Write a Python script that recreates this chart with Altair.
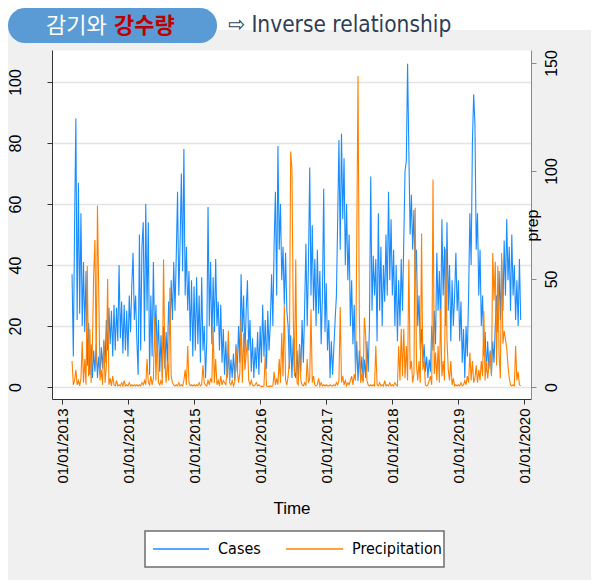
import altair as alt
import pandas as pd

# ---- data (weekly samples) ----
cases_2013 = [37,10,53,88,22, 67,24,57,20,41, 18,38,7,21,4, 14,3,12,5,14, 3,10,4,13,6, 15,8,22,12,26,
              14,25,10,27,12, 26,15,40,16,28, 11,27,12,25,10]
cases_2014 = [30,18,33,44,22, 30,15,4,50,12, 46,54,15,60,25, 54,4,30,10,41, 14,27,10,22,5, 17,3,20,6,18,
              8,28,17,35,22, 41,25,43,64,30, 47,70,38,78,30, 46,25,38,15,35, 10,33]
cases_2015 = [12,36,14,30,8, 36,12,20,3,15, 59,20,41,14,36, 18,42,20,28,12, 27,8,19,4,15, 3,12,2,9,3,
              11,2,14,5,20, 8,37,18,30,10, 25,35,12,22,5, 16,3,13,6,18, 4,20]
cases_2016 = [8,27,10,22,6, 25,12,21,37,20, 47,64,30,79,45, 60,35,46,27,44, 25,20,6,17,3, 16,5,3,12,2,
              14,5,22,8,26, 47,20,40,72,30, 53,25,42,20,45, 24,38,14,30,65, 18,34]
cases_2017 = [12,22,3,15,4, 13,22,30,55,81, 45,83,55,75,40, 60,35,50,20,35, 14,27,5,15,2, 12,3,10,2,9,
              3,15,5,20,69, 25,43,30,42,15, 57,25,46,20,40, 28,50,30,64,35, 55,30]
cases_2018 = [45,20,40,15,35, 20,42,25,48,71, 74,106,77,50,63, 45,58,35,45,20, 30,12,19,8,14, 5,10,3,9,5,
              20,12,25,14,44, 25,38,18,55,30, 46,20,54,25,40, 15,35,20,30,44, 25,35]
cases_2019 = [15,28,8,19,3, 20,10,30,57,40, 80,96,86,45,57, 30,45,20,30,10, 18,5,15,6,12, 4,15,8,20,30,
              18,38,22,42,25, 48,30,55,35,46, 25,50,30,40,22, 35,20,42,22]

prep_2013 = [12,1,3,8,1, 3,0.5,4,21,2, 13,1,56,5,27, 2,18,52,68,10, 84,44,3,8,1, 22,2,10,50,1,
             4,0.5,5,1,0.5, 3,0.5,1,0.5,2, 0.5,3,0.5,1,0.5]
prep_2014 = [2,0.5,1,0.5,1, 0.5,1,0.5,1,0.5, 2,1,3,1,13, 2,1,5,1,4, 32,3,24,2,1, 3,1,59,12,2,
             12,3,46,5,2, 1,0.5,1,0.5,2, 0.5,1,0.5,3,8, 1,19,2,0.5,1, 0.5,1]
prep_2015 = [0.5,1,0.5,2,0.5, 1,10,2,1,0.5, 3,1,4,2,28, 2,13,1,3,0.5, 5,1,3,2,1, 8,26,2,1,3,
             0.5,2,18,8,2, 6,32,2,25,8, 15,22,3,1,3, 1,0.5,1,2,0.5, 1,0.5]
prep_2016 = [0.3,0.3,0.5,15,0.5, 0.3,0.3,0.5,0.3,0.5, 7,1,4,1,13, 2,25,5,38,3, 1,5,12,109,101, 35,5,59,2,1,
             19,3,1,0.5,2, 0.5,13,2,4,36, 2,5,1,0.5,1, 4,0.5,2,0.5,1, 0.5,1]
prep_2017 = [0.5,0.5,1,0.5,0.5, 1,0.5,2,1,3, 37,2,5,1,3, 0.5,2,1,3,5, 1,6,3,67,144, 35,2,6,2,32,
             24,3,1,0.5,1, 0.5,1,0.5,19,1, 0.5,2,0.5,1,0.5, 3,0.5,1,0.5,2, 0.5,1]
prep_2018 = [0.5,2,1,0.5,19, 3,27,5,27,4, 19,3,59,8,12, 2,6,83,10,3, 12,2,71,8,12, 1,0.5,1,3,5,
             1,96,6,16,3, 19,2,36,5,12, 3,64,22,8,3, 12,1,4,0.5,1, 0.5,1]
prep_2019 = [0.5,2,0.5,1,3, 1,5,2,16,3, 12,2,4,10,2, 8,3,12,5,35, 3,12,4,10,16, 5,62,40,58,10,
             56,15,4,62,20, 26,22,18,10,4, 1,0.5,1,0.5,19, 3,7,1,0.5]

left_ticks = [0, 20, 40, 60, 80, 100]
right_ticks = [0, 50, 100, 150]
tick_dates = ["2013-01-01", "2014-01-01", "2015-01-01", "2016-01-01",
              "2017-01-01", "2018-01-01", "2019-01-01", "2020-01-01"]

cases = cases_2013 + cases_2014 + cases_2015 + cases_2016 + cases_2017 + cases_2018 + cases_2019
prep = prep_2013 + prep_2014 + prep_2015 + prep_2016 + prep_2017 + prep_2018 + prep_2019
dates = pd.date_range("2013-02-23", "2019-12-13", periods=len(cases))
df = pd.DataFrame({"date": dates.strftime("%Y-%m-%dT%H:%M:%S"), "cases": cases, "prep": prep})


def ms(s):
    return int(pd.Timestamp(s).value // 10**6)


W, H = 479, 349
BLUE = "#1a8cff"
ORANGE = "#ff8000"
FONT = "Liberation Sans"
COND = "DejaVu Sans Condensed, Liberation Sans"

x_scale = alt.Scale(domain=[ms("2012-11-04"), ms("2020-02-08")])

x_axis = alt.Axis(
    values=[ms(d) for d in tick_dates],
    format="%m/%d/%Y", labelAngle=270, labelAlign="right", labelBaseline="middle",
    labelPadding=4, labelFontSize=15, labelFont=FONT, labelColor="#000",
    labelOverlap=False, labelFlush=False, tickSize=5, tickColor="#333",
    domainColor="#333", grid=False, title="Time", titleFont=FONT,
    titleFontSize=17, titleFontWeight="normal", titleColor="#000",
    titleY=101, titleBaseline="top")

cases_line = alt.Chart(df).mark_line(color=BLUE, strokeWidth=1.1).encode(
    x=alt.X("date:T", scale=x_scale, axis=x_axis),
    y=alt.Y("cases:Q", title=None,
            scale=alt.Scale(domain=[-3.93, 110.5], nice=False, zero=False),
            axis=alt.Axis(orient="left", values=left_ticks, labelAngle=270,
                          labelAlign="center", labelBaseline="bottom", labelPadding=24,
                          labelFontSize=16, labelFont=FONT, labelColor="#000",
                          tickSize=5, tickColor="#333", domainColor="#333",
                          grid=True, gridColor="#e4e4e4", gridWidth=1.5,
                          labelFlush=False)),
)

prep_line = alt.Chart(df).mark_line(color=ORANGE, strokeWidth=1.1).encode(
    x=alt.X("date:T", scale=x_scale, axis=x_axis),
    y=alt.Y("prep:Q", title="prep",
            scale=alt.Scale(domain=[-5.56, 156], nice=False, zero=False),
            axis=alt.Axis(orient="right", values=right_ticks, labelAngle=270,
                          labelAlign="center", labelBaseline="top", labelPadding=7,
                          labelFontSize=16, labelFont=FONT, labelColor="#000",
                          tickSize=5, tickColor="#888", domainColor="#888",
                          grid=False, labelFlush=False,
                          titleAngle=270, titleX=1, titleY=175, titleAlign="center",
                          titleBaseline="middle", titleFont=FONT, titleFontSize=16,
                          titleFontWeight="normal", titleColor="#000")),
)

one = pd.DataFrame({"k": [0]})

strip = alt.Chart(one).mark_rect(color="white").encode(
    x=alt.value(-44), x2=alt.value(W + 60), y=alt.value(-42), y2=alt.value(-20))
pill = alt.Chart(one).mark_rect(color="#5b9bd5", cornerRadius=17).encode(
    x=alt.value(-44), x2=alt.value(165), y=alt.value(-42), y2=alt.value(-7))
t1 = alt.Chart(one).mark_text(text="감기와", font="Noto Sans CJK KR", fontSize=22,
                              color="white", align="left", baseline="middle").encode(
    x=alt.value(-6), y=alt.value(-24))
t2 = alt.Chart(one).mark_text(text="강수량", font="Noto Sans CJK KR", fontSize=22,
                              fontWeight="bold", color="#c00000", align="left",
                              baseline="middle").encode(x=alt.value(62), y=alt.value(-24))
t3 = alt.Chart(one).mark_text(text="⇨ Inverse relationship", font=COND, fontSize=22.5,
                              color="#2e3d55", align="left", baseline="middle").encode(
    x=alt.value(176), y=alt.value(-25))

leg_box = alt.Chart(one).mark_rect(fill="white", stroke="#6e6e6e", strokeWidth=1.5).encode(
    x=alt.value(93), x2=alt.value(392), y=alt.value(481), y2=alt.value(517))
leg_l1 = alt.Chart(one).mark_rule(color=BLUE, strokeWidth=1.5).encode(
    x=alt.value(101), x2=alt.value(157), y=alt.value(499))
leg_l2 = alt.Chart(one).mark_rule(color=ORANGE, strokeWidth=1.5).encode(
    x=alt.value(234), x2=alt.value(291), y=alt.value(499))
leg_t1 = alt.Chart(one).mark_text(text="Cases", font=COND, fontSize=16, color="#000",
                                  align="left", baseline="middle").encode(
    x=alt.value(166), y=alt.value(499))
leg_t2 = alt.Chart(one).mark_text(text="Precipitation", font=COND, fontSize=16,
                                  color="#000", align="left", baseline="middle").encode(
    x=alt.value(300), y=alt.value(499))

chart = alt.layer(
    cases_line, prep_line, strip, pill, t1, t2, t3, leg_box, leg_l1, leg_l2, leg_t1, leg_t2
).resolve_scale(y="independent").properties(
    width=W, height=H,
    padding={"left": 44, "top": 42, "right": 60, "bottom": 181},
    autosize=alt.AutoSizeParams(type="none"),
    background="#f0f0f0",
).configure_view(fill="white", stroke="transparent")

chart.save("out.html", embed_options={"renderer": "svg", "actions": False})
